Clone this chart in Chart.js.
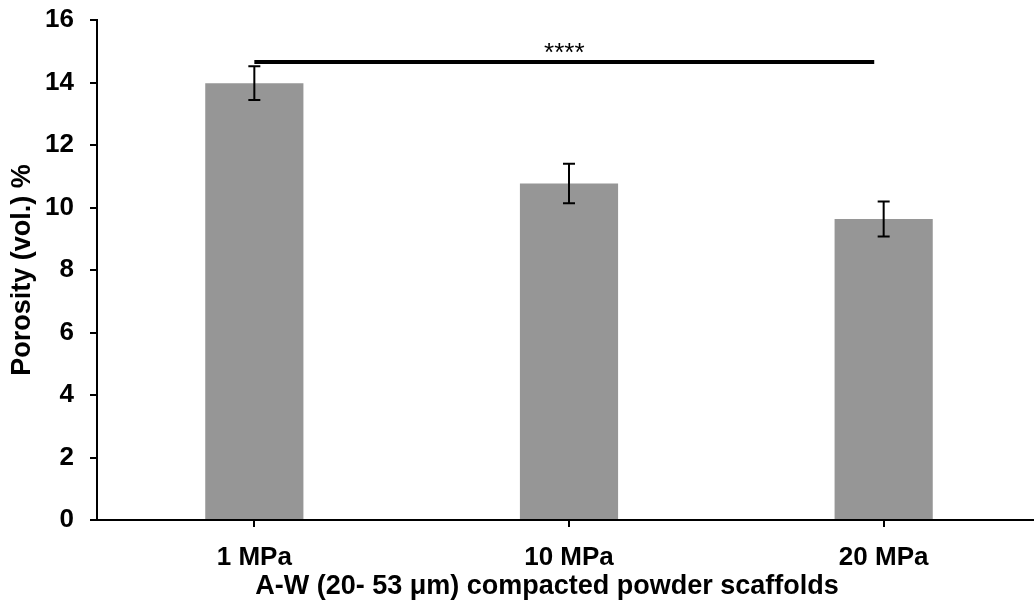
<!DOCTYPE html>
<html>
<head>
<meta charset="utf-8">
<script src="https://cdn.jsdelivr.net/npm/chart.js@4/dist/chart.umd.min.js"></script>
<style>
    html, body { margin: 0; padding: 0; background: #fff; overflow: hidden; }
    #wrap { width: 1034px; height: 606px; overflow: hidden; }
</style>
</head>
<body>
<div id="wrap"><canvas id="porosityChart" width="1042" height="606"></canvas></div>
<script>
const categories = ['1 MPa', '10 MPa', '20 MPa'];
const porosity = [13.98, 10.77, 9.63];
const porosityErr = [0.54, 0.63, 0.56];
const yTicks = [0, 2, 4, 6, 8, 10, 12, 14, 16];
// bracket between 1 MPa and 20 MPa
const sigFrom = 0;
const sigTo = 1.97;
const sigLevel = 14.66;
const sigLabel = '****';
const xTitle = 'A-W (20- 53 μm) compacted powder scaffolds';
const yTitle = 'Porosity (vol.) %';

const FONT = '"Liberation Sans", Arial, sans-serif';

// error bars, significance bracket and x title drawn on top of the bars
const extras = {
    id: 'extras',
    afterDatasetsDraw(chart) {
        const ctx = chart.ctx;
        const x = chart.scales.x;
        const y = chart.scales.y;
        ctx.save();
        ctx.strokeStyle = '#000';
        ctx.lineWidth = 2;
        porosity.forEach((v, i) => {
            const px = x.getPixelForValue(i);
            const top = y.getPixelForValue(v + porosityErr[i]);
            const bot = y.getPixelForValue(v - porosityErr[i]);
            ctx.beginPath();
            ctx.moveTo(px, top); ctx.lineTo(px, bot);
            ctx.moveTo(px - 6, top); ctx.lineTo(px + 6, top);
            ctx.moveTo(px - 6, bot); ctx.lineTo(px + 6, bot);
            ctx.stroke();
        });

        const x1 = x.getPixelForValue(sigFrom);
        const x2 = x.getPixelForValue(sigTo);
        const sy = y.getPixelForValue(sigLevel);
        ctx.lineWidth = 4;
        ctx.beginPath();
        ctx.moveTo(x1, sy); ctx.lineTo(x2, sy);
        ctx.stroke();

        ctx.fillStyle = '#000';
        ctx.font = '26px ' + FONT;
        ctx.textAlign = 'center';
        ctx.textBaseline = 'alphabetic';
        ctx.fillText(sigLabel, (x1 + x2) / 2, sy - 1);

        ctx.font = 'bold 27px ' + FONT;
        ctx.textBaseline = 'middle';
        ctx.fillText(xTitle, 547, 587);
        ctx.restore();
    }
};

const ctx = document.getElementById('porosityChart').getContext('2d');
new Chart(ctx, {
    type: 'bar',
    data: {
        labels: categories,
        datasets: [{
            label: 'Porosity',
            data: porosity,
            backgroundColor: '#969696',
            borderWidth: 0,
            barPercentage: 0.312,
            categoryPercentage: 1
        }]
    },
    options: {
        responsive: false,
        animation: false,
        layout: { padding: { top: 20, right: 1, left: 0, bottom: 0 } },
        plugins: {
            legend: { display: false },
            tooltip: { enabled: false }
        },
        scales: {
            x: {
                offset: true,
                grid: { offset: false, drawOnChartArea: false, drawTicks: true, tickLength: 7, color: '#000', lineWidth: 2 },
                border: { color: '#000', width: 2 },
                ticks: { color: '#000', font: { family: FONT, size: 26, weight: 'bold' }, padding: 15 },
                afterFit(scale) { scale.height = 86; }
            },
            y: {
                min: 0,
                max: 16,
                afterBuildTicks(scale) { scale.ticks = yTicks.map(v => ({ value: v })); },
                grid: { drawOnChartArea: false, drawTicks: true, tickLength: 7, color: '#000', lineWidth: 2 },
                border: { color: '#000', width: 2 },
                ticks: { color: '#000', font: { family: FONT, size: 26, weight: 'bold' }, padding: 16 },
                title: {
                    display: true,
                    text: yTitle,
                    color: '#000',
                    font: { family: FONT, size: 27, weight: 'bold' },
                    padding: { top: 6, bottom: 0 }
                },
                afterFit(scale) {
                    scale.width = 97;
                    scale.paddingTop = 0;
                    scale.paddingBottom = 0;
                }
            }
        }
    },
    plugins: [extras]
});
</script>
</body>
</html>
